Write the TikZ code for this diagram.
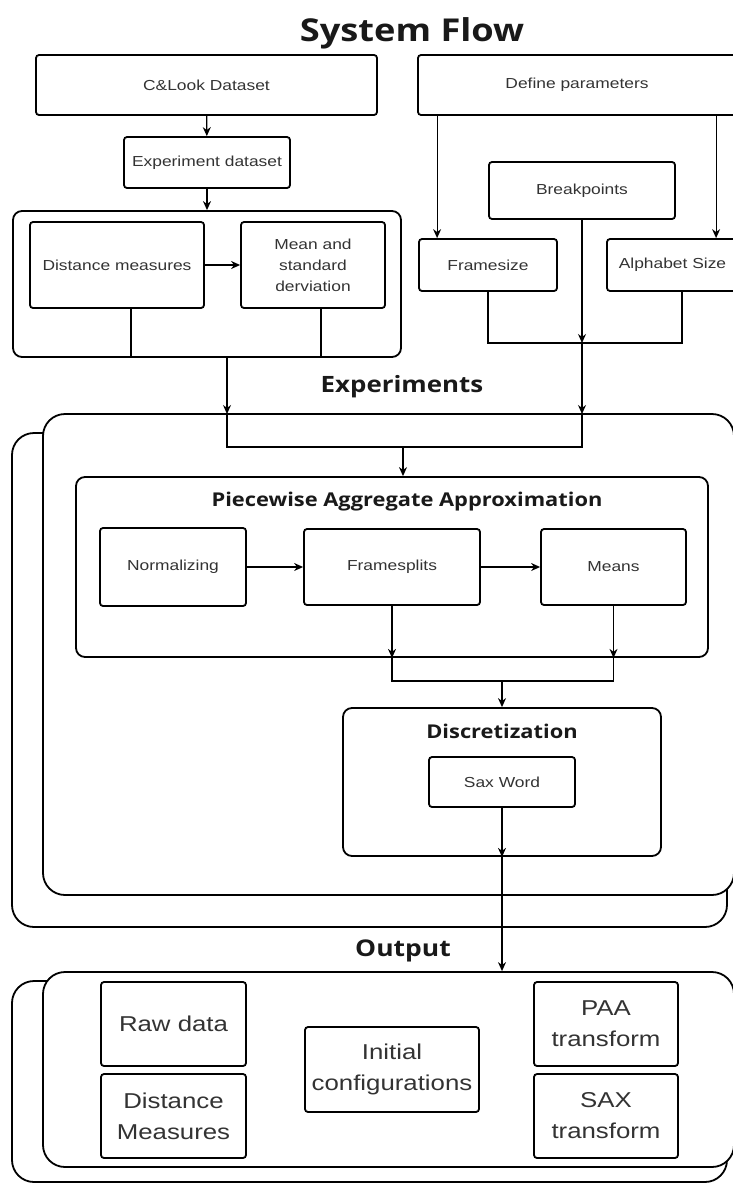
\documentclass[tikz,border=0pt]{standalone}
\usepackage{fontspec}
\setmainfont{Liberation Sans}[FakeStretch=1.2]
\newfontfamily\headfont{Open Sans}[FakeStretch=1.15]
\usepackage{tikz}
\usetikzlibrary{arrows.meta, positioning, calc}

\begin{document}
\begin{tikzpicture}[x=1pt, y=-1pt,
    box/.style={rectangle, draw, rounded corners=3pt, line width=1.8pt, inner sep=0pt, text=black!80, align=center, font=\fontsize{14.5}{21}\selectfont},
    bigbox/.style={box, font=\fontsize{21.5}{31}\selectfont},
    group/.style={rectangle, draw, rounded corners=9pt, line width=1.8pt, inner sep=0pt},
    stack/.style={rectangle, draw, fill=white, rounded corners=22pt, line width=1.8pt, inner sep=0pt},
    head/.style={font={\headfont\bfseries\fontsize{#1}{#1}\selectfont}, text=black!90},
    arrow/.style={-{Stealth[length=9pt,width=8pt]}, line width=1.2pt},
    link/.style={line width=1.8pt}
]
    \useasboundingbox (0,0) rectangle (732,1183);

    % stacked frames
    \node[stack, minimum width=715, minimum height=494] (expback) at (369.5,680) {};
    \node[stack, minimum width=691, minimum height=481] (expfront) at (388.5,654.5) {};
    \node[stack, minimum width=715, minimum height=201] (outback) at (369.5,1081.5) {};
    \node[stack, minimum width=691, minimum height=195] (outfront) at (388.5,1069.5) {};

    % top part
    \node[head=31.5] (title) at (412,33) {System Flow};
    \node[box, minimum width=341, minimum height=60] (dataset) at (206.5,85) {C\&Look Dataset};
    \node[box, minimum width=318, minimum height=60] (params) at (577,85) {Define parameters};
    \node[box, minimum width=166, minimum height=51] (expdata) at (207,162.5) {Experiment dataset};
    \node[box, minimum width=186, minimum height=57] (breakpoints) at (582,190.5) {Breakpoints};
    \node[group, minimum width=388, minimum height=146] (distgroup) at (207,284) {};
    \node[box, minimum width=174, minimum height=86] (distance) at (117,265) {Distance measures};
    \node[box, minimum width=144, minimum height=86] (meanstd) at (313,265) {Mean and\\standard\\derviation};
    \node[box, minimum width=138, minimum height=52] (framesize) at (488,265) {Framesize};
    \node[box, minimum width=131, minimum height=52] (alphabet) at (672.5,265) {Alphabet Size};

    \draw[arrow] (dataset) -- (expdata);
    \draw[arrow] (expdata) -- (expdata |- distgroup.north);
    \draw[arrow] (distance) -- (meanstd);
    \coordinate (dsL) at ([xshift=14pt]distance.south);
    \coordinate (msR) at ([xshift=8pt]meanstd.south);
    \draw[link] (dsL) -- (dsL |- distgroup.south);
    \draw[link] (msR) -- (msR |- distgroup.south);

    \coordinate (fsin) at ([xshift=19pt]framesize.north west);
    \coordinate (abin) at ([xshift=110pt]alphabet.north west);
    \draw[arrow] (params.south -| fsin) -- (fsin);
    \draw[arrow] (params.south -| abin) -- (abin);
    \coordinate (pj) at (582,343);
    \coordinate (about) at ([xshift=9.5pt]alphabet.south);
    \draw[link] (framesize.south) -- (framesize.south |- pj) -- (about |- pj) -- (about);
    \draw[arrow] (breakpoints) -- (pj);

    % experiments
    \node[head=22.5] (explabel) at (402,387) {Experiments};
    \coordinate (inL) at (227,414);
    \coordinate (inR) at (582,414);
    \draw[arrow] (inL |- distgroup.south) -- (inL);
    \draw[arrow] (pj) -- (inR);
    \draw[link] (inL) -- ++(0,33) -| (inR);

    \node[group, minimum width=632, minimum height=180] (paa) at (392,567) {};
    \node[head=19] (paatitle) at (407,502) {Piecewise Aggregate Approximation};
    \node[box, minimum width=146, minimum height=78] (norm) at (173,567) {Normalizing};
    \node[box, minimum width=176, minimum height=76] (framesplits) at (392,567) {Framesplits};
    \node[box, minimum width=145, minimum height=76] (means) at (613.5,567) {Means};
    \coordinate (paain) at (403,447);
    \draw[arrow] (paain) -- (paain |- paa.north);
    \draw[arrow] (norm) -- (framesplits);
    \draw[arrow] (framesplits) -- (means);
    \draw[arrow] (framesplits) -- (framesplits |- paa.south);
    \draw[arrow] (means) -- (means |- paa.south);

    \node[group, minimum width=318, minimum height=148] (disc) at (502,782) {};
    \node[head=19] (disctitle) at (502,731) {Discretization};
    \node[box, minimum width=146, minimum height=50] (saxword) at (502,782) {Sax Word};
    \coordinate (dj) at (502,681);
    \draw[link] (framesplits |- paa.south) -- (framesplits |- dj) -- (means |- dj) -- (means |- paa.south);
    \draw[arrow] (dj) -- (disc.north);
    \draw[arrow] (saxword) -- (disc.south);
    \draw[arrow] (disc.south) -- (disc.south |- outfront.north);

    % output
    \node[head=23] (outlabel) at (403,951) {Output};
    \node[bigbox, minimum width=145, minimum height=84] (rawdata) at (173.5,1024) {Raw data};
    \node[bigbox, minimum width=145, minimum height=84] (distmeas) at (173.5,1116) {Distance\\Measures};
    \node[bigbox, minimum width=174, minimum height=85] (initconf) at (392,1069.5) {Initial\\configurations};
    \node[bigbox, minimum width=144, minimum height=84] (paat) at (606,1024) {PAA\\transform};
    \node[bigbox, minimum width=144, minimum height=84] (saxt) at (606,1116) {SAX\\transform};
\end{tikzpicture}
\end{document}
